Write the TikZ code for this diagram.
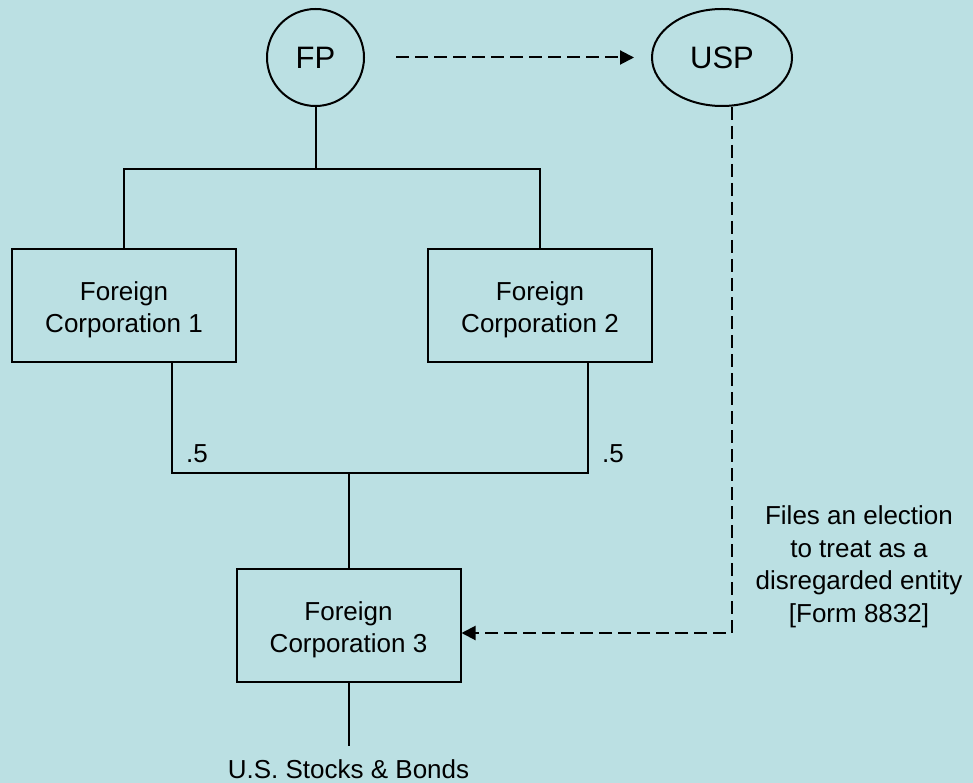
\documentclass[tikz,border=0pt]{standalone}
\usepackage{fontspec}
\setmainfont{Liberation Sans}
\usetikzlibrary{arrows.meta,shapes.geometric}
\definecolor{bgteal}{HTML}{BBE0E3}
\newcommand{\uprule}{\rule{0pt}{27pt}}
\begin{document}
\begin{tikzpicture}[x=1pt,y=-1pt,
  conn/.style={line width=2pt,black},
  dashconn/.style={line width=2pt,black,dash pattern=on 13pt off 6pt},
  tip/.style={-{Triangle[length=14pt,width=14pt]}},
  ent/.style={draw,line width=2pt,inner sep=0pt,font=\fontsize{31}{36}\selectfont},
  corp/.style={draw,line width=2pt,rectangle,minimum width=224pt,minimum height=113pt,inner sep=0pt,align=center,font=\fontsize{26}{32.5}\selectfont},
  lbl/.style={inner sep=0pt,font=\fontsize{26}{32.5}\selectfont}]
\fill[bgteal] (0,0) rectangle (973,783);
\useasboundingbox (0,0) rectangle (973,783);

\node[ent,circle,minimum size=97pt] (FP) at (315.5,57.5) {FP};
\node[ent,ellipse,minimum width=140pt,minimum height=97pt] (USP) at (722,57.5) {USP};

\node[corp] (c1) at (124,305.5) {\uprule Foreign\\Corporation 1};
\node[corp] (c2) at (540,305.5) {\uprule Foreign\\Corporation 2};
\node[corp] (c3) at (348.5,625.5) {\uprule Foreign\\Corporation 3};

\coordinate (t) at (315.5,169);
\coordinate (j1) at (172,473);
\coordinate (j2) at (588,473);
\coordinate (jm) at (348.5,473);
\coordinate (corner) at (732,633);
\coordinate (bend) at (348.5,746);

% ownership lines
\draw[conn] (FP.south) -- (t);
\draw[conn] (c1.north) |- (t) -| (c2.north);
\draw[conn] (c1.south -| j1) -- (j1) -- (j2) -- (c2.south -| j2);
\draw[conn] (jm) -- (c3.north);
\draw[conn] (c3.south) -- (bend);

\node[lbl,anchor=base west] (h1) at ([shift={(14,-11)}]j1) {.5};
\node[lbl,anchor=base west] (h2) at ([shift={(14,-11)}]j2) {.5};

\node[lbl,anchor=base] (usb) at (348.5,778) {U.S. Stocks \& Bonds};

% dashed arrows
\draw[dashconn,tip] ([xshift=31pt]FP.east) -- ([xshift=-17pt]USP.west);
\draw[dashconn,tip] (corner |- USP.south) -- (corner) -- (c3.east |- corner);

\node[lbl,align=center] (note) at (859,567) {Files an election\\to treat as a\\disregarded entity\\{[Form 8832]}};
\end{tikzpicture}
\end{document}
